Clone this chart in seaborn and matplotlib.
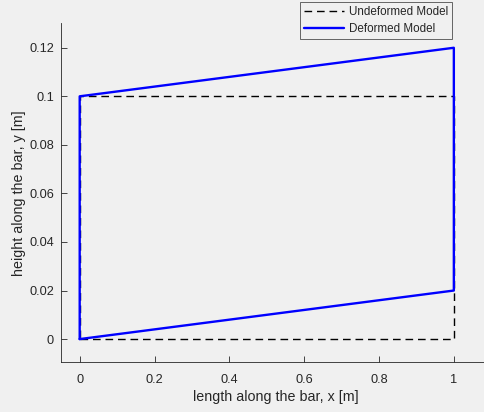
import matplotlib
matplotlib.use("Agg")
import matplotlib.pyplot as plt
import seaborn as sns
import pandas as pd

# Outline of the bar: corner x and y coordinates, traced as a closed loop
undeformed_x = [0, 1, 1, 0, 0]
undeformed_y = [0, 0, 0.1, 0.1, 0]
deformed_x = [0, 1, 1, 0, 0]
deformed_y = [0, 0.02, 0.12, 0.1, 0]

x_ticks = [0, 0.2, 0.4, 0.6, 0.8, 1]
y_ticks = [0, 0.02, 0.04, 0.06, 0.08, 0.1, 0.12]

sns.set_theme(style="ticks")
plt.rcParams["font.family"] = ["Liberation Sans", "DejaVu Sans"]

bg = "#f0f0f0"
fig = plt.figure(figsize=(4.84, 4.12), dpi=100, facecolor=bg)
ax = fig.add_axes([0.126, 0.121, 0.889, 0.822])
ax.set_facecolor(bg)

und = pd.DataFrame({"x": undeformed_x, "y": undeformed_y})
dfm = pd.DataFrame({"x": deformed_x, "y": deformed_y})

sns.lineplot(data=und, x="x", y="y", sort=False, estimator=None, ax=ax,
             color="black", linewidth=1.0, linestyle=(0, (5.5, 3.5)),
             label="Undeformed Model")
sns.lineplot(data=dfm, x="x", y="y", sort=False, estimator=None, ax=ax,
             color="#0000ff", linewidth=1.7, label="Deformed Model")

ax.set_xlim(-0.05, 1.1)
ax.set_ylim(-0.0095, 0.13)
ax.set_xticks(x_ticks)
ax.set_xticklabels(["0", "0.2", "0.4", "0.6", "0.8", "1"])
ax.set_yticks(y_ticks)
ax.set_yticklabels(["0", "0.02", "0.04", "0.06", "0.08", "0.1", "0.12"])

tc = "#262626"
ax.tick_params(direction="in", length=4, width=0.6, colors=tc, labelsize=9.2,
               labelcolor=tc)
ax.tick_params(axis="x", pad=8.5)
ax.tick_params(axis="y", pad=5)
for side in ["top", "right"]:
    ax.spines[side].set_visible(False)
for side in ["left", "bottom"]:
    ax.spines[side].set_color(tc)
    ax.spines[side].set_linewidth(0.6)

ax.set_xlabel("length along the bar, x [m]", fontsize=10.3, color=tc, labelpad=3)
ax.set_ylabel("height along the bar, y [m]", fontsize=10.3, color=tc, labelpad=2)

ax.legend_.remove()
handles, labels = ax.get_legend_handles_labels()
leg = fig.legend(handles, labels, loc="upper right",
                 bbox_to_anchor=(452 / 484, 1 - 2 / 412),
                 fontsize=8.4, frameon=True, fancybox=False, handlelength=3.4,
                 handletextpad=0.4, borderpad=0.35, labelspacing=0.4,
                 borderaxespad=0.0)
leg.get_frame().set_facecolor(bg)
leg.get_frame().set_edgecolor(tc)
leg.get_frame().set_linewidth(0.6)

fig.savefig("out.png", dpi=100, facecolor=bg)
